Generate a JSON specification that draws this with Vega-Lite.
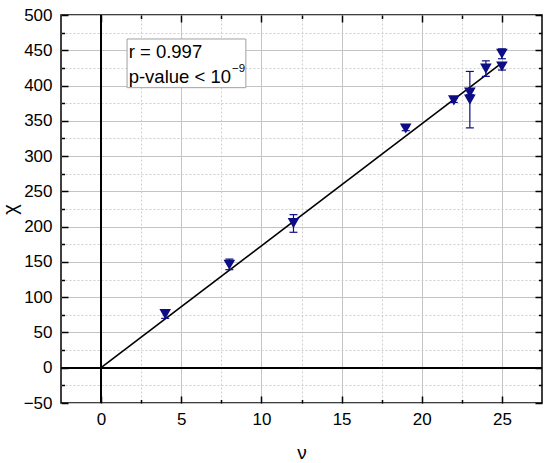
{
  "$schema": "https://vega.github.io/schema/vega-lite/v6.json",
  "width": 481,
  "height": 388,
  "autosize": {"type": "none"},
  "padding": {"left": 61, "top": 15, "right": 8, "bottom": 60},
  "config": {
    "font": "Liberation Sans",
    "view": {"stroke": "black", "strokeWidth": 1.5},
    "axis": {"domain": false, "tickColor": "black", "labelColor": "black", "titleColor": "black", "labelFlush": false, "labelOverlap": false}
  },
  "datasets": {
    "points": [
      {"nu": 4, "chi": 76, "lo": 70, "hi": 82},
      {"nu": 8, "chi": 146, "lo": 139, "hi": 154},
      {"nu": 12, "chi": 205, "lo": 192, "hi": 217},
      {"nu": 19, "chi": 339, "lo": 336, "hi": 342},
      {"nu": 22, "chi": 379, "lo": 376, "hi": 382},
      {"nu": 23, "chi": 390, "lo": 387, "hi": 393},
      {"nu": 23, "chi": 380, "lo": 340, "hi": 420},
      {"nu": 24, "chi": 424, "lo": 413, "hi": 435},
      {"nu": 25, "chi": 445, "lo": 438, "hi": 452},
      {"nu": 25, "chi": 427, "lo": 422, "hi": 432}
    ],
    "fit": [
      {"nu": 0, "chi": 0},
      {"nu": 25, "chi": 432}
    ]
  },
  "data": {"name": "points"},
  "resolve": {"axis": {"x": "independent", "y": "independent"}},
  "layer": [
    {
      "mark": {"type": "point", "opacity": 0},
      "encoding": {
        "x": {"field": "nu", "type": "quantitative", "scale": {"domain": [-2.5, 27.5], "nice": false, "zero": false},
          "axis": {"orient": "bottom", "values": [0, 5, 10, 15, 20, 25], "grid": true, "gridColor": "#c4c4c4", "gridWidth": 1,
            "tickSize": -7, "tickWidth": 1.5, "labelPadding": 15, "labelFontSize": 17,
            "title": "ν", "titleFontSize": 19, "titleFontWeight": "normal", "titlePadding": 16}},
        "y": {"field": "chi", "type": "quantitative", "scale": {"domain": [-50, 500], "nice": false, "zero": false},
          "axis": {"orient": "left", "values": [-50, 0, 50, 100, 150, 200, 250, 300, 350, 400, 450, 500], "grid": true, "gridColor": "#c4c4c4", "gridWidth": 1,
            "tickSize": -7, "tickWidth": 1.5, "labelPadding": 16, "labelFontSize": 17,
            "title": "χ", "titleFontSize": 20, "titleFontWeight": "normal", "titlePadding": 3}}
      }
    },
    {
      "mark": {"type": "point", "opacity": 0},
      "encoding": {
        "x": {"field": "nu", "type": "quantitative", "scale": {"domain": [-2.5, 27.5], "nice": false, "zero": false},
          "axis": {"orient": "bottom", "values": [2.5, 7.5, 12.5, 17.5, 22.5], "grid": true, "gridColor": "#cfcfcf", "gridDash": [2, 2], "gridWidth": 1,
            "tickSize": -3.5, "tickWidth": 1.5, "labels": false, "title": null}},
        "y": {"field": "chi", "type": "quantitative", "scale": {"domain": [-50, 500], "nice": false, "zero": false},
          "axis": {"orient": "left", "values": [-25, 25, 75, 125, 175, 225, 275, 325, 375, 425, 475], "grid": true, "gridColor": "#cfcfcf", "gridDash": [2, 2], "gridWidth": 1,
            "tickSize": -3.5, "tickWidth": 1.5, "labels": false, "title": null}}
      }
    },
    {
      "mark": {"type": "point", "opacity": 0},
      "encoding": {
        "x": {"field": "nu", "type": "quantitative", "scale": {"domain": [-2.5, 27.5], "nice": false, "zero": false},
          "axis": {"orient": "top", "values": [0, 5, 10, 15, 20, 25], "grid": false, "tickSize": -7, "tickWidth": 1.5, "labels": false, "title": null}},
        "y": {"field": "chi", "type": "quantitative", "scale": {"domain": [-50, 500], "nice": false, "zero": false},
          "axis": {"orient": "right", "values": [-50, 0, 50, 100, 150, 200, 250, 300, 350, 400, 450, 500], "grid": false, "tickSize": -7, "tickWidth": 1.5, "labels": false, "title": null}}
      }
    },
    {
      "mark": {"type": "point", "opacity": 0},
      "encoding": {
        "x": {"field": "nu", "type": "quantitative", "scale": {"domain": [-2.5, 27.5], "nice": false, "zero": false},
          "axis": {"orient": "top", "values": [2.5, 7.5, 12.5, 17.5, 22.5], "grid": false, "tickSize": -3.5, "tickWidth": 1.5, "labels": false, "title": null}},
        "y": {"field": "chi", "type": "quantitative", "scale": {"domain": [-50, 500], "nice": false, "zero": false},
          "axis": {"orient": "right", "values": [-25, 25, 75, 125, 175, 225, 275, 325, 375, 425, 475], "grid": false, "tickSize": -3.5, "tickWidth": 1.5, "labels": false, "title": null}}
      }
    },
    {
      "mark": {"type": "rule", "color": "black", "strokeWidth": 1.5},
      "encoding": {
        "x": {"datum": 0, "type": "quantitative", "scale": {"domain": [-2.5, 27.5], "nice": false, "zero": false}, "axis": null}
      }
    },
    {
      "mark": {"type": "rule", "color": "black", "strokeWidth": 1.5},
      "encoding": {
        "y": {"datum": 0, "type": "quantitative", "scale": {"domain": [-50, 500], "nice": false, "zero": false}, "axis": null}
      }
    },
    {
      "data": {"name": "fit"},
      "mark": {"type": "line", "color": "black", "strokeWidth": 1.6},
      "encoding": {
        "x": {"field": "nu", "type": "quantitative", "scale": {"domain": [-2.5, 27.5], "nice": false, "zero": false}, "axis": null},
        "y": {"field": "chi", "type": "quantitative", "scale": {"domain": [-50, 500], "nice": false, "zero": false}, "axis": null}
      }
    },
    {
      "mark": {"type": "rule", "color": "#0d0d85", "strokeWidth": 1.2},
      "encoding": {
        "x": {"field": "nu", "type": "quantitative", "scale": {"domain": [-2.5, 27.5], "nice": false, "zero": false}, "axis": null},
        "y": {"field": "lo", "type": "quantitative", "scale": {"domain": [-50, 500], "nice": false, "zero": false}, "axis": null},
        "y2": {"field": "hi"}
      }
    },
    {
      "mark": {"type": "tick", "orient": "horizontal", "color": "#0d0d85", "size": 8, "thickness": 1.2, "opacity": 1},
      "encoding": {
        "x": {"field": "nu", "type": "quantitative", "scale": {"domain": [-2.5, 27.5], "nice": false, "zero": false}, "axis": null},
        "y": {"field": "hi", "type": "quantitative", "scale": {"domain": [-50, 500], "nice": false, "zero": false}, "axis": null}
      }
    },
    {
      "mark": {"type": "tick", "orient": "horizontal", "color": "#0d0d85", "size": 8, "thickness": 1.2, "opacity": 1},
      "encoding": {
        "x": {"field": "nu", "type": "quantitative", "scale": {"domain": [-2.5, 27.5], "nice": false, "zero": false}, "axis": null},
        "y": {"field": "lo", "type": "quantitative", "scale": {"domain": [-50, 500], "nice": false, "zero": false}, "axis": null}
      }
    },
    {
      "mark": {"type": "point", "shape": "triangle-down", "filled": true, "size": 135, "color": "#0d0d85", "opacity": 1},
      "encoding": {
        "x": {"field": "nu", "type": "quantitative", "scale": {"domain": [-2.5, 27.5], "nice": false, "zero": false}, "axis": null},
        "y": {"field": "chi", "type": "quantitative", "scale": {"domain": [-50, 500], "nice": false, "zero": false}, "axis": null}
      }
    },
    {
      "data": {"values": [{}]},
      "mark": {"type": "rect", "fill": "white", "stroke": "#a0a0a0", "strokeWidth": 1},
      "encoding": {
        "x": {"datum": 1.62, "type": "quantitative", "scale": {"domain": [-2.5, 27.5], "nice": false, "zero": false}, "axis": null},
        "x2": {"datum": 9.03},
        "y": {"datum": 466, "type": "quantitative", "scale": {"domain": [-50, 500], "nice": false, "zero": false}, "axis": null},
        "y2": {"datum": 397}
      }
    },
    {
      "data": {"values": [{"label": "r = 0.997"}]},
      "mark": {"type": "text", "align": "left", "baseline": "middle", "fontSize": 18.5, "color": "black"},
      "encoding": {
        "x": {"datum": 1.72, "type": "quantitative", "scale": {"domain": [-2.5, 27.5], "nice": false, "zero": false}, "axis": null},
        "y": {"datum": 447.7, "type": "quantitative", "scale": {"domain": [-50, 500], "nice": false, "zero": false}, "axis": null},
        "text": {"field": "label"}
      }
    },
    {
      "data": {"values": [{"label": "p-value < 10"}]},
      "mark": {"type": "text", "align": "left", "baseline": "middle", "fontSize": 18.5, "color": "black"},
      "encoding": {
        "x": {"datum": 1.72, "type": "quantitative", "scale": {"domain": [-2.5, 27.5], "nice": false, "zero": false}, "axis": null},
        "y": {"datum": 412.4, "type": "quantitative", "scale": {"domain": [-50, 500], "nice": false, "zero": false}, "axis": null},
        "text": {"field": "label"}
      }
    },
    {
      "data": {"values": [{"label": "−9"}]},
      "mark": {"type": "text", "align": "left", "baseline": "middle", "fontSize": 11.5, "color": "black"},
      "encoding": {
        "x": {"datum": 8.17, "type": "quantitative", "scale": {"domain": [-2.5, 27.5], "nice": false, "zero": false}, "axis": null},
        "y": {"datum": 423.5, "type": "quantitative", "scale": {"domain": [-50, 500], "nice": false, "zero": false}, "axis": null},
        "text": {"field": "label"}
      }
    }
  ]
}
